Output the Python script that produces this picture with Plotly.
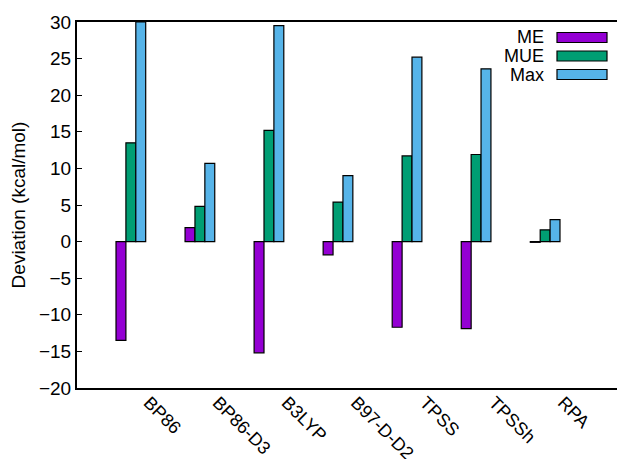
import plotly.graph_objects as go

methods = ["BP86", "BP86-D3", "B3LYP", "B97-D-D2", "TPSS", "TPSSh", "RPA"]
me = [-13.5, 1.9, -15.2, -1.8, -11.7, -11.9, -0.1]
mue = [13.5, 4.8, 15.2, 5.4, 11.7, 11.9, 1.6]
mx = [30.0, 10.7, 29.5, 9.0, 25.2, 23.6, 3.0]
series_names = ["ME", "MUE", "Max"]
series_colors = ["#9400D3", "#009E73", "#56B4E9"]
y_ticks = [-20, -15, -10, -5, 0, 5, 10, 15, 20, 25, 30]

FONT = "Liberation Sans, Arial, Helvetica, sans-serif"

# page body has an 8px default margin; plot area target (page px): x 77..628, y 22..388
OFF = 8
L, R, T, B = 77 - OFF, 625 - (628 - OFF), 22 - OFF, 459 - (388 - OFF)
PW = 625 - L - R
PH = 459 - T - B

fig = go.Figure()
for name, vals, col in zip(series_names, [me, mue, mx], series_colors):
    fig.add_trace(go.Bar(
        x=methods, y=vals, name=name,
        marker=dict(color=col, line=dict(color="#000000", width=1.2)),
        showlegend=False, cliponaxis=True,
    ))

# invisible trace to drive the mirrored right-hand ticks
fig.add_trace(go.Scatter(x=[methods[0]], y=[0], yaxis="y2", mode="markers",
                         marker=dict(opacity=0), showlegend=False, hoverinfo="skip"))

fig.update_layout(
    width=625, height=459,
    margin=dict(l=L, r=R, t=T, b=B, autoexpand=False),
    paper_bgcolor="white", plot_bgcolor="white",
    barmode="group", bargap=0.57, bargroupgap=0,
    font=dict(family=FONT, size=18, color="#000000"),
    xaxis=dict(
        type="category", range=[-0.78, 7.2], automargin=False,
        showline=True, linecolor="#000000", linewidth=2, mirror=True,
        ticks="", tickangle=45, ticklabelshift=18, ticklabelstandoff=-5,
        tickfont=dict(size=18), showgrid=False, zeroline=False,
    ),
    yaxis=dict(
        range=[-20, 30], tickvals=y_ticks, automargin=False,
        showline=True, linecolor="#000000", linewidth=2, mirror=False,
        ticks="inside", ticklen=5, tickwidth=1, tickcolor="#000000",
        tickfont=dict(size=19), showgrid=False, zeroline=False,
        title=dict(text="Deviation (kcal/mol)", font=dict(size=19), standoff=10),
    ),
    yaxis2=dict(
        range=[-20, 30], tickvals=y_ticks, overlaying="y", side="right",
        automargin=False,
        showline=False, ticks="inside", ticklen=5, tickwidth=1, tickcolor="#000000",
        showticklabels=False, showgrid=False, zeroline=False,
    ),
)

# manual gnuplot-style legend: text on the left, sample box on the right
row_y = [37.5, 56, 74.5]
for name, col, py in zip(series_names, series_colors, row_y):
    yc = 388 - py
    fig.add_annotation(xref="paper", yref="paper", x=(545 - 77) / PW, y=yc / PH,
                       text=name, showarrow=False, xanchor="right", yanchor="middle",
                       borderpad=0,
                       font=dict(size=18, family=FONT, color="#000000"))
    fig.add_shape(type="rect", xref="paper", yref="paper",
                  x0=(557 - 77) / PW, x1=(607 - 77) / PW,
                  y0=(yc - 5) / PH, y1=(yc + 5) / PH,
                  fillcolor=col, line=dict(color="#000000", width=1.2))

fig.write_html("out.html")
